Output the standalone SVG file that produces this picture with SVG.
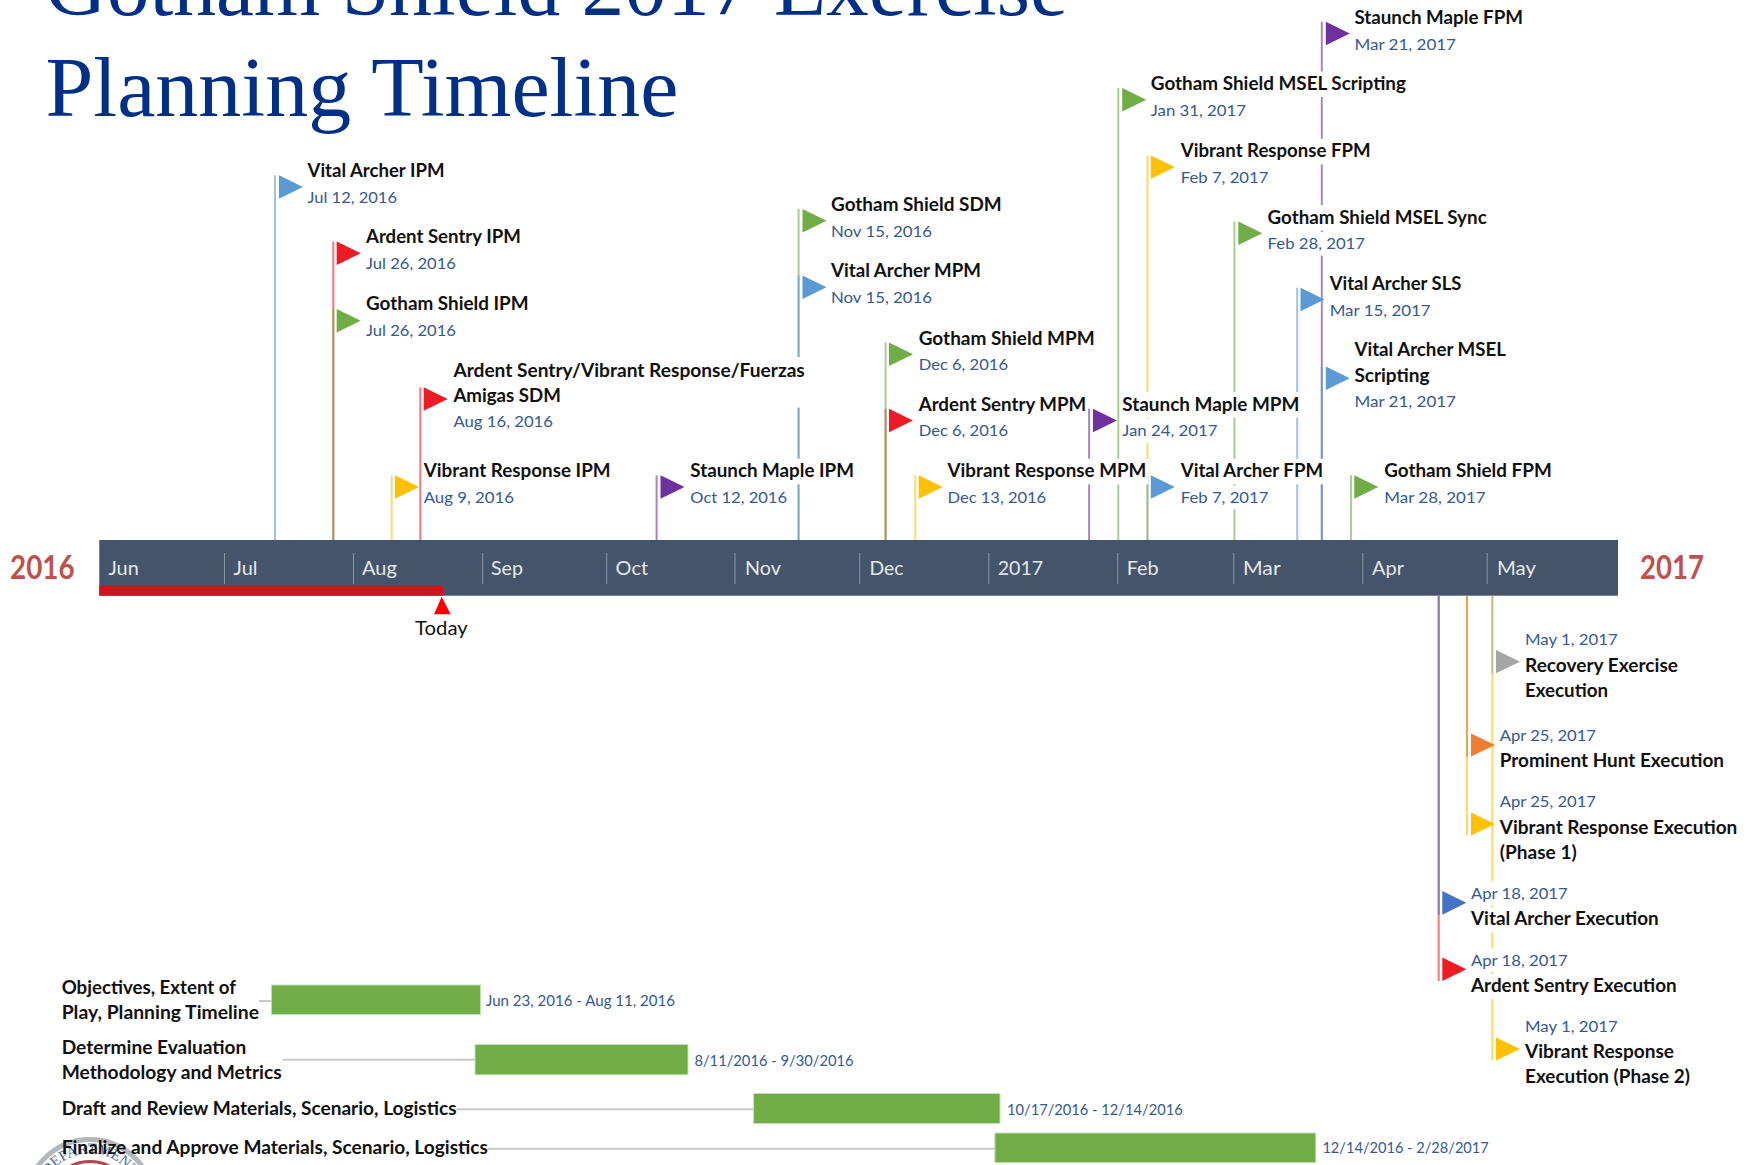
<svg xmlns="http://www.w3.org/2000/svg" width="1759" height="1165" viewBox="0 0 1759 1165">
<style>
text{font-family:"Lato","Carlito","Liberation Sans",sans-serif}
.n{font-size:18.5px;font-weight:700;fill:#111}
.d{font-size:16px;fill:#35588F}
.m{font-size:20px;fill:#E6E8EB}
.y{font-size:32px;font-weight:700;fill:#C0504D}
.t{font-family:"Liberation Serif",serif;font-size:85px;fill:#002F86}
.bg{fill:#fff}
.s{fill:none;stroke-width:2;stroke-opacity:.6}
.sb{stroke:#5B9BD5}.sr{stroke:#ED1C24}.sg{stroke:#70AD47}.sy{stroke:#FFC000}.sp{stroke:#7030A0}.so{stroke:#ED7D31}.sa{stroke:#A5A5A5}.sd{stroke:#4472C4}
.tb{fill:#5B9BD5}.tr{fill:#ED1C24}.tg{fill:#70AD47}.ty{fill:#FFC000}.tp{fill:#7030A0}.to{fill:#ED7D31}.ta{fill:#A5A5A5}.td{fill:#4472C4}
.sep{stroke:#8A96A6;stroke-width:1}
.c{stroke:#C8C8C8;stroke-width:2}
.b{fill:#70AD47;stroke:#C5E0B4;stroke-width:1}
</style>

<g id="title">
<text class="t" x="45" y="14.5" textLength="1023" lengthAdjust="spacingAndGlyphs">Gotham Shield 2017 Exercise</text>
<text class="t" x="45.5" y="116" textLength="633" lengthAdjust="spacingAndGlyphs">Planning Timeline</text>
</g>

<g id="seal" fill="none">
<circle cx="90" cy="1203.5" r="64" stroke="#B4B8BC" stroke-width="5"/>
<circle cx="90" cy="1203.5" r="42" stroke="#B5474F" stroke-width="3"/>
<path id="sealArc" d="M40 1203.5A50 50 0 0 1 140 1203.5" stroke="none"/>
<text font-size="15" fill="#4A6C9B" text-anchor="middle" style="font-family:'Liberation Serif',serif"><textPath href="#sealArc" startOffset="50%">DEPARTMENT</textPath></text>
</g>

<g id="connectors">
<path class="s sb" d="M275 175.3V540"/>
<path class="s sr" d="M333.3 241.5V540"/>
<path class="s sg" d="M333.3 309V540"/>
<path class="s sr" d="M420.3 387.3V540"/>
<path class="s sy" d="M391.7 475.3V540"/>
<path class="s sp" d="M656.6 475.3V540"/>
<path class="s sg" d="M798.6 209V540"/>
<path class="s sb" d="M798.6 275.5V540"/>
<path class="s sr" d="M885.6 408.7V540"/>
<path class="s sg" d="M885.6 342.5V540"/>
<path class="s sy" d="M915.3 475.3V540"/>
<path class="s sp" d="M1089.1 408.7V540"/>
<path class="s sg" d="M1118.3 88V540"/>
<path class="s sy" d="M1147.5 155.4V540"/>
<path class="s sb" d="M1147.5 475.3V540"/>
<path class="s sg" d="M1234.4 221.6V540"/>
<path class="s sb" d="M1297.2 287.8V540"/>
<path class="s sp" d="M1321.8 21.8V540"/>
<path class="s sb" d="M1321.8 366.6V540"/>
<path class="s sg" d="M1351 475.3V540"/>
<path class="s sr" d="M1438.7 596V981"/>
<path class="s sd" d="M1438.7 596V914.7"/>
<path class="s sy" d="M1467 596V835.6"/>
<path class="s so" d="M1467 596V756.5"/>
<path class="s sy" d="M1492.3 596V1060.6"/>
<path class="s sa" d="M1492.3 596V673.3"/>
<path class="c" d="M259 1001H271.4"/>
<path class="c" d="M282.6 1059.7H475"/>
<path class="c" d="M456.6 1109.3H753.6"/>
<path class="c" d="M488 1148.7H994.9"/>
</g>

<g id="timeline">
<rect x="99.3" y="540" width="1518.7" height="55.7" fill="#44546A"/>
<rect x="99.3" y="585" width="343.7" height="10.7" fill="#C8161D"/>
<path class="sep" d="M224.5 553V584M353.5 553V584M482.6 553V584M606.7 553V584M735 553V584M859.7 553V584M988.8 553V584M1117.7 553V584M1233.8 553V584M1362.8 553V584M1487.2 553V584"/>
<text class="m" x="108.5" y="575" textLength="30.3" lengthAdjust="spacingAndGlyphs">Jun</text>
<text class="m" x="233.5" y="575" textLength="24" lengthAdjust="spacingAndGlyphs">Jul</text>
<text class="m" x="362" y="575" textLength="34.8" lengthAdjust="spacingAndGlyphs">Aug</text>
<text class="m" x="491" y="575" textLength="32" lengthAdjust="spacingAndGlyphs">Sep</text>
<text class="m" x="615.6" y="575" textLength="32.5" lengthAdjust="spacingAndGlyphs">Oct</text>
<text class="m" x="745" y="575" textLength="36" lengthAdjust="spacingAndGlyphs">Nov</text>
<text class="m" x="869.5" y="575" textLength="34" lengthAdjust="spacingAndGlyphs">Dec</text>
<text class="m" x="997.7" y="575" textLength="45.4" lengthAdjust="spacingAndGlyphs">2017</text>
<text class="m" x="1126.7" y="575" textLength="32" lengthAdjust="spacingAndGlyphs">Feb</text>
<text class="m" x="1243" y="575" textLength="37.6" lengthAdjust="spacingAndGlyphs">Mar</text>
<text class="m" x="1372" y="575" textLength="32" lengthAdjust="spacingAndGlyphs">Apr</text>
<text class="m" x="1497" y="575" textLength="39" lengthAdjust="spacingAndGlyphs">May</text>
<text class="y" x="10" y="579" textLength="64.6" lengthAdjust="spacingAndGlyphs">2016</text>
<text class="y" x="1640" y="579" textLength="64" lengthAdjust="spacingAndGlyphs">2017</text>
</g>

<g id="today">
<path d="M441.7 596.7L450.7 614.3H434Z" fill="#FF0000"/>
<text x="415" y="634.5" font-size="20" fill="#111" textLength="52.7" lengthAdjust="spacingAndGlyphs">Today</text>
</g>

<g id="va-ipm"><path class="tb" d="M279 175.3l24 11.7l-24 11.8z"/><text class="n" x="307.5" y="177.3" textLength="137" lengthAdjust="spacingAndGlyphs">Vital Archer IPM</text><text class="d" x="307.5" y="203" textLength="89.5" lengthAdjust="spacingAndGlyphs">Jul 12, 2016</text></g>
<g id="as-ipm"><path class="tr" d="M336.7 241.5l24 11.7l-24 11.8z"/><text class="n" x="366" y="243" textLength="154.8" lengthAdjust="spacingAndGlyphs">Ardent Sentry IPM</text><text class="d" x="366" y="269" textLength="90" lengthAdjust="spacingAndGlyphs">Jul 26, 2016</text></g>
<g id="gs-ipm"><path class="tg" d="M336.7 309l24 11.7l-24 11.8z"/><text class="n" x="366" y="310" textLength="162.6" lengthAdjust="spacingAndGlyphs">Gotham Shield IPM</text><text class="d" x="366" y="335.5" textLength="90" lengthAdjust="spacingAndGlyphs">Jul 26, 2016</text></g>
<g id="as-sdm"><rect class="bg" x="452.5" y="357" width="353" height="50.6"/><path class="tr" d="M423.7 387.3l24 11.7l-24 11.8z"/><text class="n" x="453.4" y="377" textLength="351.4" lengthAdjust="spacingAndGlyphs">Ardent Sentry/Vibrant Response/Fuerzas</text><text class="n" x="453.4" y="402" textLength="107.6" lengthAdjust="spacingAndGlyphs">Amigas SDM</text><text class="d" x="453.4" y="427.3" textLength="99.6" lengthAdjust="spacingAndGlyphs">Aug 16, 2016</text></g>
<g id="vr-ipm"><path class="ty" d="M395 475.3l24 11.7l-24 11.8z"/><text class="n" x="423.7" y="477.3" textLength="186.9" lengthAdjust="spacingAndGlyphs">Vibrant Response IPM</text><text class="d" x="423.7" y="503" textLength="90.3" lengthAdjust="spacingAndGlyphs">Aug 9, 2016</text></g>
<g id="sm-ipm"><rect class="bg" x="689.5" y="458.8" width="165" height="25.5"/><path class="tp" d="M660.5 475.3l24 11.7l-24 11.8z"/><text class="n" x="690.3" y="477.3" textLength="163.7" lengthAdjust="spacingAndGlyphs">Staunch Maple IPM</text><text class="d" x="690.3" y="503" textLength="96.7" lengthAdjust="spacingAndGlyphs">Oct 12, 2016</text></g>
<g id="gs-sdm"><path class="tg" d="M802.5 209l24 11.7l-24 11.8z"/><text class="n" x="831" y="211" textLength="170.7" lengthAdjust="spacingAndGlyphs">Gotham Shield SDM</text><text class="d" x="831" y="236.7" textLength="101" lengthAdjust="spacingAndGlyphs">Nov 15, 2016</text></g>
<g id="va-mpm"><path class="tb" d="M802.5 275.5l24 11.7l-24 11.8z"/><text class="n" x="831" y="277" textLength="150" lengthAdjust="spacingAndGlyphs">Vital Archer MPM</text><text class="d" x="831" y="303" textLength="101" lengthAdjust="spacingAndGlyphs">Nov 15, 2016</text></g>
<g id="gs-mpm"><path class="tg" d="M889 342.5l24 11.7l-24 11.8z"/><text class="n" x="918.7" y="344.5" textLength="176" lengthAdjust="spacingAndGlyphs">Gotham Shield MPM</text><text class="d" x="918.7" y="370.2" textLength="89.3" lengthAdjust="spacingAndGlyphs">Dec 6, 2016</text></g>
<g id="as-mpm"><path class="tr" d="M889 408.7l24 11.7l-24 11.8z"/><text class="n" x="918.7" y="410.7" textLength="167.6" lengthAdjust="spacingAndGlyphs">Ardent Sentry MPM</text><text class="d" x="918.7" y="436.4" textLength="89.3" lengthAdjust="spacingAndGlyphs">Dec 6, 2016</text></g>
<g id="vr-mpm"><rect class="bg" x="947" y="458.8" width="201.5" height="25.5"/><path class="ty" d="M918.7 475.3l24 11.7l-24 11.8z"/><text class="n" x="947.5" y="477.3" textLength="198.8" lengthAdjust="spacingAndGlyphs">Vibrant Response MPM</text><text class="d" x="947.5" y="503" textLength="98.7" lengthAdjust="spacingAndGlyphs">Dec 13, 2016</text></g>
<g id="sm-mpm"><rect class="bg" x="1121.4" y="392.2" width="179" height="25.5"/><rect class="bg" x="1121.4" y="419.2" width="97" height="23.5"/><path class="tp" d="M1093 408.7l24 11.7l-24 11.8z"/><text class="n" x="1122.2" y="410.7" textLength="177.2" lengthAdjust="spacingAndGlyphs">Staunch Maple MPM</text><text class="d" x="1122.2" y="436.4" textLength="95.3" lengthAdjust="spacingAndGlyphs">Jan 24, 2017</text></g>
<g id="va-fpm"><rect class="bg" x="1180.2" y="458.8" width="143.8" height="25.5"/><rect class="bg" x="1180.2" y="485.8" width="89" height="23.5"/><path class="tb" d="M1150.8 475.3l24 11.7l-24 11.8z"/><text class="n" x="1180.8" y="477.3" textLength="142.2" lengthAdjust="spacingAndGlyphs">Vital Archer FPM</text><text class="d" x="1180.8" y="503" textLength="87.6" lengthAdjust="spacingAndGlyphs">Feb 7, 2017</text></g>
<g id="vr-fpm"><rect class="bg" x="1180.2" y="138.9" width="191" height="25.5"/><path class="ty" d="M1150.8 155.4l24 11.7l-24 11.8z"/><text class="n" x="1180.8" y="157" textLength="189.8" lengthAdjust="spacingAndGlyphs">Vibrant Response FPM</text><text class="d" x="1180.8" y="183" textLength="87.6" lengthAdjust="spacingAndGlyphs">Feb 7, 2017</text></g>
<g id="gs-msel"><rect class="bg" x="1150" y="71.5" width="256.5" height="25.5"/><path class="tg" d="M1122.2 88l24 11.7l-24 11.8z"/><text class="n" x="1150.8" y="90" textLength="255.2" lengthAdjust="spacingAndGlyphs">Gotham Shield MSEL Scripting</text><text class="d" x="1150.8" y="115.7" textLength="95.2" lengthAdjust="spacingAndGlyphs">Jan 31, 2017</text></g>
<g id="gs-sync"><rect class="bg" x="1267.2" y="205.1" width="220" height="25.5"/><rect class="bg" x="1267.2" y="232.1" width="98" height="23.5"/><path class="tg" d="M1238.3 221.6l24 11.7l-24 11.8z"/><text class="n" x="1267.6" y="223.6" textLength="219.1" lengthAdjust="spacingAndGlyphs">Gotham Shield MSEL Sync</text><text class="d" x="1267.6" y="249.3" textLength="97.4" lengthAdjust="spacingAndGlyphs">Feb 28, 2017</text></g>
<g id="va-sls"><path class="tb" d="M1300.5 287.8l24 11.7l-24 11.8z"/><text class="n" x="1329.7" y="289.8" textLength="131.8" lengthAdjust="spacingAndGlyphs">Vital Archer SLS</text><text class="d" x="1329.7" y="315.5" textLength="100.9" lengthAdjust="spacingAndGlyphs">Mar 15, 2017</text></g>
<g id="va-msel"><path class="tb" d="M1325.8 366.6l24 11.7l-24 11.8z"/><text class="n" x="1354.4" y="356" textLength="151.6" lengthAdjust="spacingAndGlyphs">Vital Archer MSEL</text><text class="n" x="1354.4" y="381.5" textLength="75.1" lengthAdjust="spacingAndGlyphs">Scripting</text><text class="d" x="1354.4" y="407.2" textLength="101.6" lengthAdjust="spacingAndGlyphs">Mar 21, 2017</text></g>
<g id="sm-fpm"><path class="tp" d="M1325.8 21.8l24 11.7l-24 11.8z"/><text class="n" x="1354.4" y="23.8" textLength="168.6" lengthAdjust="spacingAndGlyphs">Staunch Maple FPM</text><text class="d" x="1354.4" y="49.5" textLength="101.6" lengthAdjust="spacingAndGlyphs">Mar 21, 2017</text></g>
<g id="gs-fpm"><path class="tg" d="M1354.3 475.3l24 11.7l-24 11.8z"/><text class="n" x="1384.2" y="477.3" textLength="167.5" lengthAdjust="spacingAndGlyphs">Gotham Shield FPM</text><text class="d" x="1384.2" y="503" textLength="101.4" lengthAdjust="spacingAndGlyphs">Mar 28, 2017</text></g>

<g id="re-exec"><path class="ta" d="M1496 650l24 11.7l-24 11.6z"/><text class="d" x="1525" y="645.2" textLength="92.7" lengthAdjust="spacingAndGlyphs">May 1, 2017</text><text class="n" x="1525" y="671.5" textLength="153" lengthAdjust="spacingAndGlyphs">Recovery Exercise</text><text class="n" x="1525" y="696.5" textLength="83" lengthAdjust="spacingAndGlyphs">Execution</text></g>
<g id="ph-exec"><path class="to" d="M1471 733.4l24 11.6l-24 11.5z"/><text class="d" x="1499.7" y="741" textLength="96.3" lengthAdjust="spacingAndGlyphs">Apr 25, 2017</text><text class="n" x="1499.7" y="767" textLength="224.3" lengthAdjust="spacingAndGlyphs">Prominent Hunt Execution</text></g>
<g id="vr-exec1"><path class="ty" d="M1471 812.5l24 11.6l-24 11.5z"/><text class="d" x="1499.7" y="807" textLength="96.3" lengthAdjust="spacingAndGlyphs">Apr 25, 2017</text><text class="n" x="1499.7" y="833.5" textLength="237.6" lengthAdjust="spacingAndGlyphs">Vibrant Response Execution</text><text class="n" x="1499.7" y="858.5" textLength="77" lengthAdjust="spacingAndGlyphs">(Phase 1)</text></g>
<g id="va-exec"><rect class="bg" x="1470.5" y="881.5" width="98" height="23.5"/><rect class="bg" x="1470.5" y="907.6" width="189" height="25"/><path class="td" d="M1442.3 891l24 11.8l-24 11.9z"/><text class="d" x="1471" y="898.7" textLength="96.7" lengthAdjust="spacingAndGlyphs">Apr 18, 2017</text><text class="n" x="1471" y="925" textLength="187.7" lengthAdjust="spacingAndGlyphs">Vital Archer Execution</text></g>
<g id="as-exec"><rect class="bg" x="1470.5" y="948.5" width="98" height="23.5"/><rect class="bg" x="1470.5" y="974" width="207" height="25"/><path class="tr" d="M1442.3 957.6l24 11.7l-24 11.7z"/><text class="d" x="1471" y="966" textLength="96.7" lengthAdjust="spacingAndGlyphs">Apr 18, 2017</text><text class="n" x="1471" y="991.5" textLength="205.7" lengthAdjust="spacingAndGlyphs">Ardent Sentry Execution</text></g>
<g id="vr-exec2"><path class="ty" d="M1496 1037.5l24 11.6l-24 11.5z"/><text class="d" x="1525" y="1031.5" textLength="92.7" lengthAdjust="spacingAndGlyphs">May 1, 2017</text><text class="n" x="1525" y="1058" textLength="149" lengthAdjust="spacingAndGlyphs">Vibrant Response</text><text class="n" x="1525" y="1083" textLength="165" lengthAdjust="spacingAndGlyphs">Execution (Phase 2)</text></g>

<g id="task1"><rect class="b" x="271.4" y="985" width="209.2" height="29.6"/><text class="n" x="61.7" y="994.3" textLength="174.3" lengthAdjust="spacingAndGlyphs">Objectives, Extent of</text><text class="n" x="61.7" y="1019.3" textLength="197.3" lengthAdjust="spacingAndGlyphs">Play, Planning Timeline</text><text class="d" x="486" y="1005.5" textLength="189" lengthAdjust="spacingAndGlyphs">Jun 23, 2016 - Aug 11, 2016</text></g>
<g id="task2"><rect class="b" x="475" y="1044.5" width="213" height="30.3"/><text class="n" x="61.7" y="1054.3" textLength="184.7" lengthAdjust="spacingAndGlyphs">Determine Evaluation</text><text class="n" x="61.7" y="1079.3" textLength="219.9" lengthAdjust="spacingAndGlyphs">Methodology and Metrics</text><text class="d" x="694.4" y="1065.5" textLength="159.2" lengthAdjust="spacingAndGlyphs">8/11/2016 - 9/30/2016</text></g>
<g id="task3"><rect class="b" x="753.6" y="1093.5" width="246.4" height="30"/><text class="n" x="61.7" y="1115.3" textLength="394.9" lengthAdjust="spacingAndGlyphs">Draft and Review Materials, Scenario, Logistics</text><text class="d" x="1007" y="1114.7" textLength="175.7" lengthAdjust="spacingAndGlyphs">10/17/2016 - 12/14/2016</text></g>
<g id="task4"><rect class="b" x="994.9" y="1133" width="320.9" height="29.6"/><text class="n" x="61.7" y="1154.3" textLength="426.3" lengthAdjust="spacingAndGlyphs">Finalize and Approve Materials, Scenario, Logistics</text><text class="d" x="1322.4" y="1153" textLength="166.4" lengthAdjust="spacingAndGlyphs">12/14/2016 - 2/28/2017</text></g>
</svg>
